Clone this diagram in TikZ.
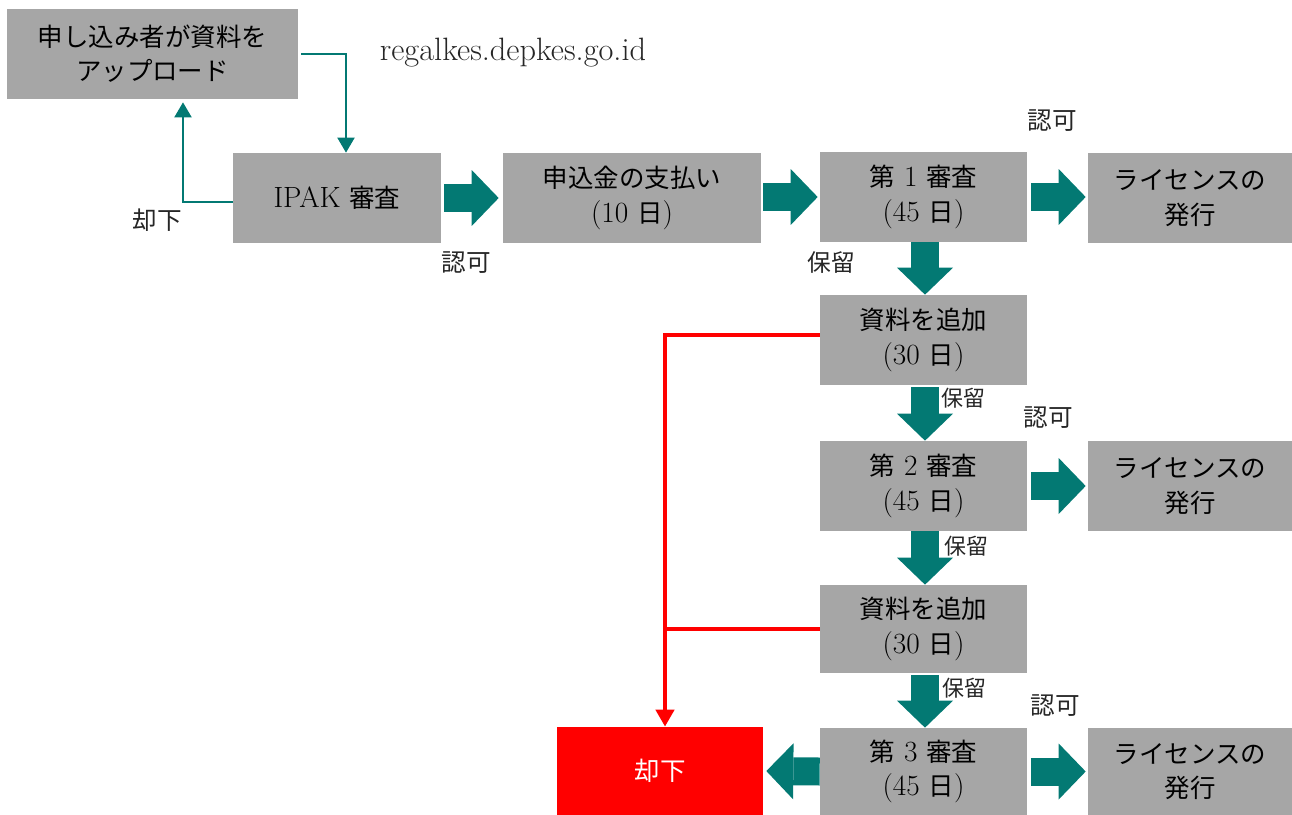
\documentclass[tikz,border=0pt]{standalone}
\usepackage{fontspec}
\usepackage{tikz}
\usetikzlibrary{arrows.meta}
\setmainfont[Scale=1.15]{Latin Modern Roman}
\newfontfamily\jp{Noto Sans CJK JP}
\definecolor{flowteal}{RGB}{3,121,115}
\definecolor{boxgrey}{RGB}{166,166,166}

\begin{document}
\begin{tikzpicture}[x=0.02cm, y=-0.02cm,
  box/.style={fill=boxgrey, inner sep=0pt, minimum width=4.14cm, minimum height=1.8cm, align=center, font=\fontsize{14.5}{19.5}\selectfont},
  lab/.style={text=black!85, inner sep=0pt, font=\fontsize{14}{16}\selectfont},
  smalllab/.style={lab, font=\fontsize{12.5}{14}\selectfont},
  fat/.style={draw=flowteal, line width=0.56cm, -{Triangle[length=0.54cm, width=1.12cm, line width=0pt]}},
  thinarrow/.style={draw=flowteal, line width=0.04cm, -{Triangle[length=0.3cm, width=0.34cm]}},
  rejline/.style={draw=red, line width=0.09cm},
  rejarrow/.style={rejline, -{Triangle[length=0.34cm, width=0.36cm]}}]
\useasboundingbox (0,0) rectangle (1292,815);

% boxes
\node[box, minimum width=5.82cm] (up) at (152.5,54) {\jp 申し込み者が資料を\\\jp アップロード};
\node[box, minimum width=4.16cm] (ipak) at (337,198) {IPAK {\jp 審査}};
\node[box, minimum width=5.16cm] (pay) at (632,198) {{\jp 申込金の支払い}\\(10 {\jp 日})};
\node[box] (rev1) at (923.5,197) {{\jp 第} 1 {\jp 審査}\\(45 {\jp 日})};
\node[box, minimum width=4.08cm] (lic1) at (1190,198) {\jp ライセンスの\\\jp 発行};
\node[box] (add1) at (923.5,340) {{\jp 資料を追加}\\(30 {\jp 日})};
\node[box] (rev2) at (923.5,486) {{\jp 第} 2 {\jp 審査}\\(45 {\jp 日})};
\node[box, minimum width=4.08cm] (lic2) at (1190,486) {\jp ライセンスの\\\jp 発行};
\node[box, minimum height=1.76cm] (add2) at (923.5,629) {{\jp 資料を追加}\\(30 {\jp 日})};
\node[box, minimum height=1.74cm] (rev3) at (923.5,771.5) {{\jp 第} 3 {\jp 審査}\\(45 {\jp 日})};
\node[box, minimum width=4.08cm, minimum height=1.74cm] (lic3) at (1190,771.5) {\jp ライセンスの\\\jp 発行};
\node[box, fill=red, text=white, minimum width=4.12cm, minimum height=1.76cm] (rej) at (660,771) {\jp 却下};

% labels
\node[lab, font=\fontsize{16}{18}\selectfont] (url) at (513,53) {regalkes.depkes.go.id};
\node[lab] (back) at (157,220) {\jp 却下};
\node[lab] (ok0) at (466,263) {\jp 認可};
\node[lab] (ok1) at (1052,121) {\jp 認可};
\node[lab] (ok2) at (1048,418) {\jp 認可};
\node[lab] (ok3) at (1055,706) {\jp 認可};
\node[lab, font=\fontsize{13.5}{15}\selectfont] (hold1) at (831,263) {\jp 保留};
\node[smalllab] (hold2) at (963,398) {\jp 保留};
\node[smalllab] (hold3) at (966,546) {\jp 保留};
\node[smalllab] (hold4) at (964,688) {\jp 保留};

% thin arrows
\draw[thinarrow] ([xshift=0.06cm]up.east) -| ([xshift=0.18cm]ipak.north);
\draw[thinarrow, shorten >=0.06cm] ([yshift=-0.08cm]ipak.west) -| ([xshift=0.61cm]up.south);

% fat arrows
\draw[fat, shorten <=0.06cm, shorten >=0.08cm] (ipak.east) -- (pay.west);
\draw[fat, shorten <=0.04cm, shorten >=0.04cm] (pay.east |- rev1.west) -- (rev1.west);
\draw[fat, shorten <=0.08cm, shorten >=0.04cm] (rev1.east) -- (rev1.east -| lic1.west);
\draw[fat] ([xshift=0.03cm]rev1.south) -- ([xshift=0.03cm]add1.north);
\draw[fat, shorten <=0.04cm] ([xshift=0.03cm]add1.south) -- ([xshift=0.03cm]rev2.north);
\draw[fat] ([xshift=0.03cm]rev2.south) -- ([xshift=0.03cm]add2.north);
\draw[fat, shorten <=0.04cm] ([xshift=0.03cm]add2.south) -- ([xshift=0.03cm]rev3.north);
\draw[fat, shorten <=0.08cm, shorten >=0.04cm] (rev2.east) -- (lic2.west);
\draw[fat, shorten <=0.08cm, shorten >=0.04cm] (rev3.east) -- (lic3.west);
\draw[fat, shorten >=0.06cm] (rev3.west) -- (rej.east);

% reject lines
\coordinate (drop) at ([xshift=0.1cm]rej.north);
\draw[rejarrow] ([yshift=0.1cm]add1.west) -| (drop);
\draw[rejline] (add2.west) -- (add2.west -| drop);
\end{tikzpicture}
\end{document}
